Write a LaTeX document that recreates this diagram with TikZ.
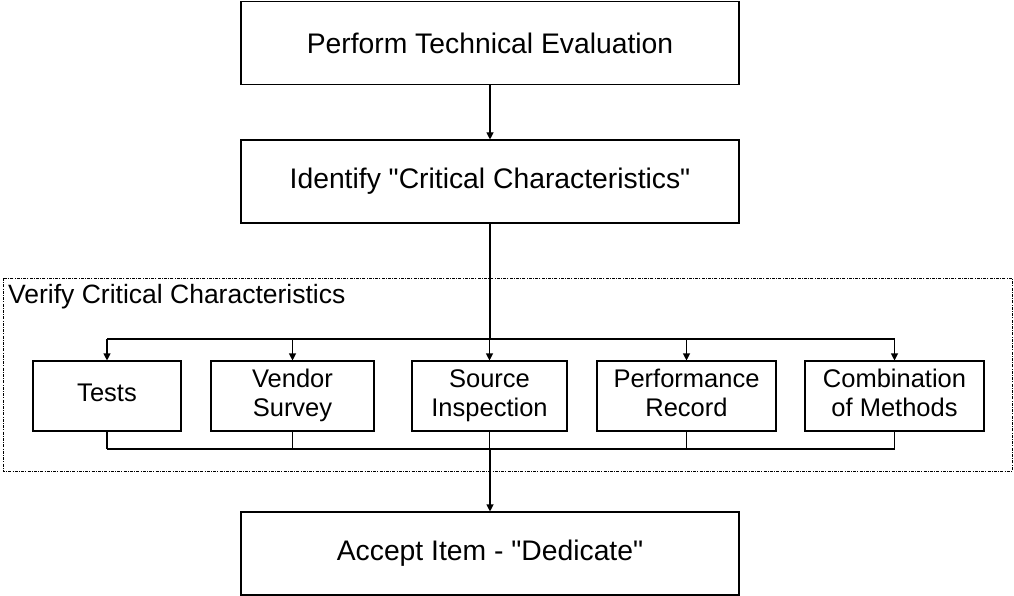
\documentclass[tikz,border=0pt]{standalone}
\usepackage{fontspec}
\setmainfont{Liberation Sans}
\usetikzlibrary{arrows.meta}
\begin{document}
\begin{tikzpicture}[x=1pt,y=-1pt,
  bigbox/.style={draw, line width=1.1pt, minimum width=498pt, minimum height=83pt, inner sep=0pt,
    font=\fontsize{28.3}{33}\selectfont},
  smallbox/.style={draw, line width=1.1pt, minimum height=70pt, inner sep=0pt, align=center,
    font=\fontsize{25.5}{29}\selectfont},
  conn/.style={line width=1.1pt},
  arr/.style={line width=1.1pt, -{Triangle[width=7pt,length=7pt]}},
  frame/.style={line width=0.6pt, dash pattern=on 3pt off 1.2pt on 1pt off 1.2pt}]
\useasboundingbox (0,0) rectangle (1014,596);
\node[bigbox] (perf) at (490,43) {Perform Technical Evaluation};
\node[bigbox] (ident) at (490,181.5) {Identify \textquotedbl Critical Characteristics\textquotedbl};
\node[bigbox] (acc) at (490,553.5) {Accept Item - \textquotedbl Dedicate\textquotedbl};
\draw[frame] (3,278) rectangle (1012,471);
\node[anchor=base west, inner sep=0pt, font=\fontsize{26.5}{30}\selectfont] (vlabel) at (8,303) {Verify Critical Characteristics};
\node[smallbox, minimum width=148pt] (tests) at (107,396) {\strut Tests};
\node[smallbox, minimum width=163pt] (vendor) at (292.5,396) {\strut Vendor\\\strut Survey};
\node[smallbox, minimum width=155pt] (source) at (489.5,396) {\strut Source\\\strut Inspection};
\node[smallbox, minimum width=179pt] (record) at (686.5,396) {\strut Performance\\\strut Record};
\node[smallbox, minimum width=179pt] (comb) at (894.5,396) {\strut Combination\\\strut of Methods};
\coordinate (br) at (490,339);
\coordinate (jn) at (490,449);
\draw[arr] (perf.south) -- (ident.north);
\draw[conn] (ident.south) -- (br);
\draw[conn] (tests.north |- br) -- (comb.north |- br);
\foreach \n in {tests,vendor,source,record,comb}
  \draw[arr] (\n.north |- br) -- (\n.north);
\foreach \n in {tests,vendor,source,record,comb}
  \draw[conn] (\n.south) -- (\n.south |- jn);
\draw[conn] (tests.south |- jn) -- (comb.south |- jn);
\draw[arr] (jn) -- (acc.north);
\end{tikzpicture}
\end{document}
